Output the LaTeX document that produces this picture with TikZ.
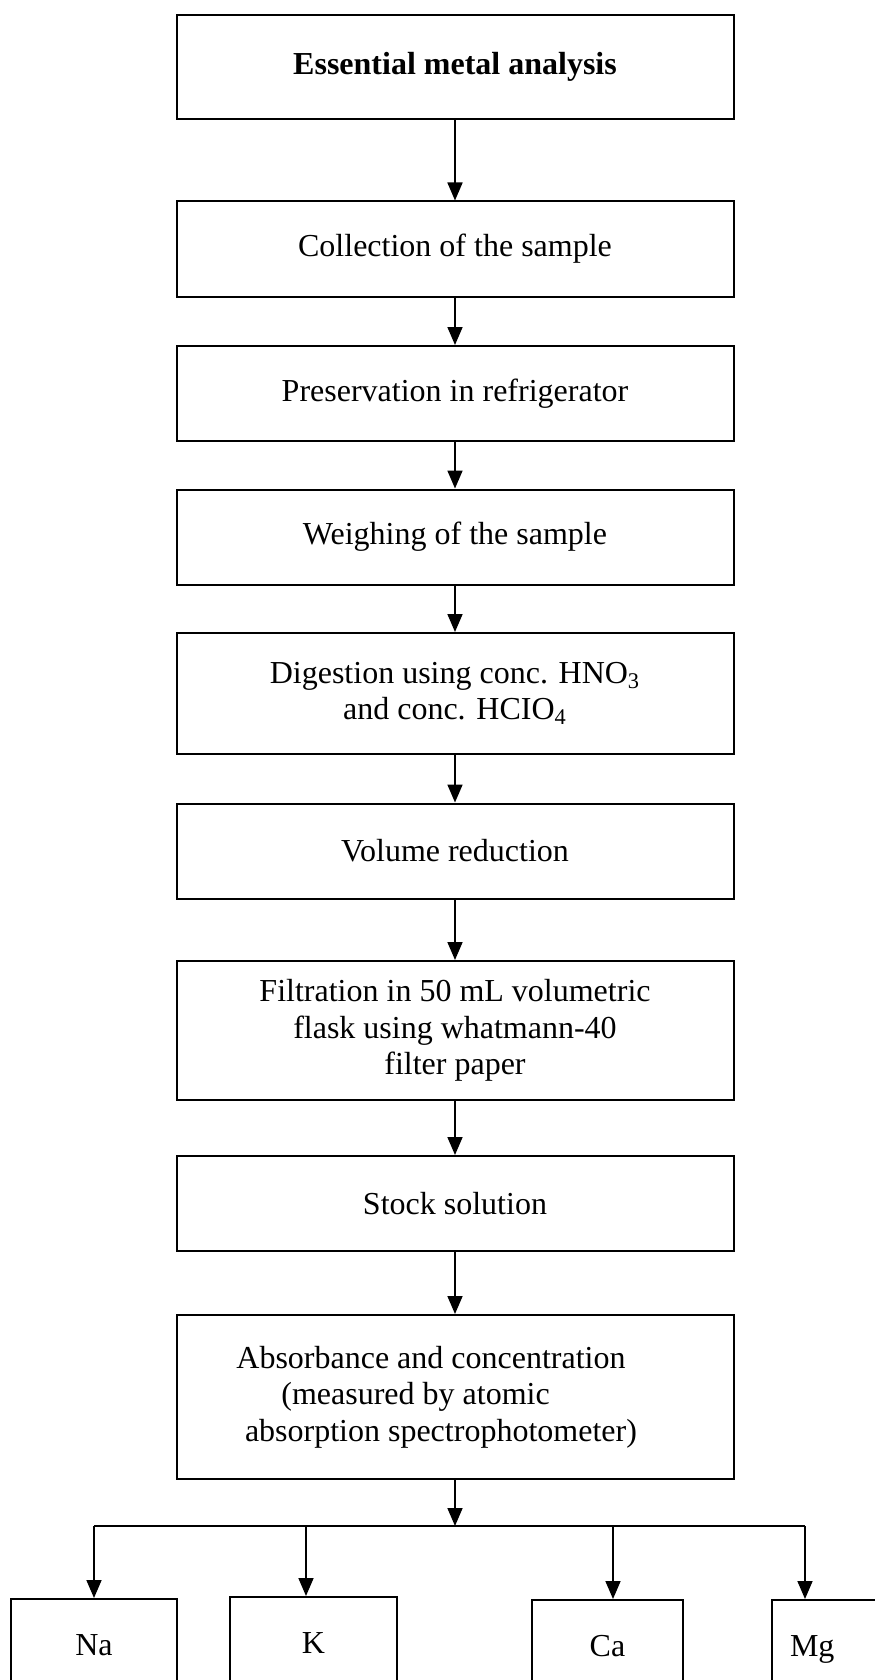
\documentclass[tikz,border=0pt]{standalone}
\usepackage{fontspec}
\setmainfont{Liberation Serif}
\usetikzlibrary{arrows.meta}
\tikzstyle{stepbox} = [draw, line width=1pt, minimum width=278.5pt, minimum height=47.5pt, align=center, inner sep=0pt, font=\fontsize{16}{18.3}\selectfont]
\tikzstyle{metal}   = [draw, line width=1pt, minimum height=46pt, anchor=north, inner sep=0pt, text height=13pt, text depth=2.5pt, font=\fontsize{16}{18.3}\selectfont]
\tikzstyle{arrow}   = [line width=0.85pt, -{Triangle[length=9pt,width=7.5pt]}]

\begin{document}
\begin{tikzpicture}[x=0.5pt,y=-0.5pt]
	\useasboundingbox (0,0) rectangle (874,1680);
	% main chain
	\node[stepbox, minimum height=52pt] (essential) at (455,67) {\textbf{Essential metal analysis}};
	\node[stepbox] (collect) at (455,249) {Collection of the sample};
	\node[stepbox] (preserve) at (455,393.5) {Preservation in refrigerator};
	\node[stepbox] (weigh) at (455,537) {Weighing of the sample};
	\node[stepbox, minimum height=60.5pt] (digest) at (455,693.5) {Digestion using conc. HNO\textsubscript{3}\\and conc. HCIO\textsubscript{4}};
	\node[stepbox] (volume) at (455,851) {Volume reduction};
	\node[stepbox, minimum height=69.5pt] (filter) at (455,1030.5) {Filtration in 50 mL volumetric\\flask using whatmann-40\\filter paper};
	\node[stepbox] (stock) at (455,1203.5) {Stock solution};
	\node[stepbox, minimum height=82pt, align=left] (absorb) at (455,1397) {Absorbance and concentration\hspace*{24pt}\\\hspace*{22.5pt}(measured by atomic\\\hspace*{4.3pt}absorption spectrophotometer)};

	% metals
	\node[metal, minimum width=83pt] (na) at (94,1598) {Na};
	\node[metal, minimum width=83.5pt] (k) at (313.5,1596) {K};
	\node[metal, minimum width=75.5pt] (ca) at (607.5,1599) {Ca};
	\node[metal, anchor=north west, inner xsep=9pt, text width=71pt, align=left] (mg) at (771,1599) {Mg};

	\coordinate (split) at (455,1526);
	\coordinate (jna) at (94,1526);
	\coordinate (jk) at (306,1526);
	\coordinate (jca) at (613,1526);
	\coordinate (jmg) at (805,1526);

	\draw[arrow] (essential) -- (collect);
	\draw[arrow] (collect) -- (preserve);
	\draw[arrow] (preserve) -- (weigh);
	\draw[arrow] (weigh) -- (digest);
	\draw[arrow] (digest) -- (volume);
	\draw[arrow] (volume) -- (filter);
	\draw[arrow] (filter) -- (stock);
	\draw[arrow] (stock) -- (absorb);
	\draw[arrow] (absorb) -- (split);
	\draw[line width=0.85pt] (jna) -- (jmg);
	\draw[arrow] (jna) -- (na.north);
	\draw[arrow] (jk) -- (jk |- k.north);
	\draw[arrow] (jca) -- (jca |- ca.north);
	\draw[arrow] (jmg) -- (jmg |- mg.north);
\end{tikzpicture}
\end{document}
